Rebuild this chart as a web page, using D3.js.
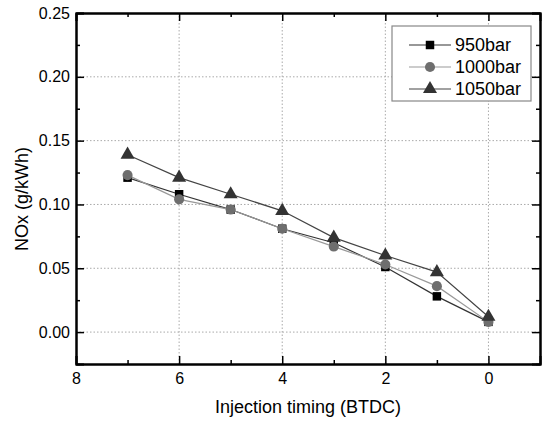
<!DOCTYPE html>
<html>
<head>
<meta charset="utf-8">
<script src="https://cdn.jsdelivr.net/npm/d3@7"></script>
<style>
  body { margin: 0; background: #fff; }
  svg { display: block; font-family: "Liberation Sans", Arial, sans-serif; }
</style>
</head>
<body>
<div id="chart"></div>
<script>
// injection timing (BTDC)
const timings = [7, 6, 5, 4, 3, 2, 1, 0]
const nox950  = [0.121, 0.108, 0.096, 0.081, 0.070, 0.051, 0.028, 0.008]
const nox1000 = [0.123, 0.104, 0.096, 0.081, 0.067, 0.053, 0.036, 0.008]
const nox1050 = [0.139, 0.121, 0.108, 0.095, 0.074, 0.060, 0.047, 0.012]
const seriesNames = ['950bar', '1000bar', '1050bar']
const xTicks = [8, 6, 4, 2, 0]
const xMinor = [7, 5, 3, 1]
const yTicks = [0, 0.05, 0.10, 0.15, 0.20, 0.25]
const yMinor = [-0.025, 0.025, 0.075, 0.125, 0.175, 0.225]

const width = 542,
      height = 422,
      margin = { top: 13, right: 2, bottom: 58, left: 76 }

const styles = [
  { symbol: d3.symbolSquare,   size: 72, fill: '#000', stroke: '#333' },
  { symbol: d3.symbolCircle,   size: 80, fill: '#6e6e6e', stroke: '#999' },
  { symbol: d3.symbolTriangle, size: 85, fill: '#333', stroke: '#444' }
]
const seriesData = [nox950, nox1000, nox1050]

const svg = d3.select('#chart')
  .append('svg')
  .attr('width', width)
  .attr('height', height)

const x = d3.scaleLinear()
  .domain([8, -1])
  .range([margin.left, width - margin.right])
const y = d3.scaleLinear()
  .domain([-0.025, 0.25])
  .range([height - margin.bottom, margin.top])

const x0 = x.range()[0], x1 = x.range()[1]
const y0 = y.range()[0], y1 = y.range()[1]

// dotted grid
svg.append('g')
  .selectAll('line')
  .data(xTicks.filter(d => d !== 8))
  .enter()
  .append('line')
    .attr('x1', d => x(d)).attr('x2', d => x(d))
    .attr('y1', y0).attr('y2', y1)
    .attr('stroke', '#aaa')
    .attr('stroke-dasharray', '1.5,2')
svg.append('g')
  .selectAll('line')
  .data(yTicks.filter(d => d !== 0.25))
  .enter()
  .append('line')
    .attr('x1', x0).attr('x2', x1)
    .attr('y1', d => y(d)).attr('y2', d => y(d))
    .attr('stroke', '#aaa')
    .attr('stroke-dasharray', '1.5,2')

// axes, ticks pointing inward
const major = 8, minor = 4
const addAxis = (axis, tx, ty, labels) => {
  const g = svg.append('g')
    .attr('transform', `translate(${tx},${ty})`)
    .call(axis)
  g.select('.domain').attr('stroke', '#000').attr('stroke-width', 2)
  g.selectAll('.tick line').attr('stroke', '#000').attr('stroke-width', 1.5)
  g.selectAll('text')
    .attr('font-size', 16)
    .attr('font-family', '"Liberation Sans", Arial, sans-serif')
    .attr('fill', '#000')
  if (!labels) g.selectAll('text').remove()
  return g
}

addAxis(d3.axisBottom(x).tickValues(xTicks).tickSize(-major).tickPadding(9).tickFormat(d3.format('d')), 0, y0, true)
addAxis(d3.axisBottom(x).tickValues(xMinor).tickSize(-minor).tickSizeOuter(0), 0, y0, false)
addAxis(d3.axisTop(x).tickValues(xTicks).tickSize(-major), 0, y1, false)
addAxis(d3.axisTop(x).tickValues(xMinor).tickSize(-minor).tickSizeOuter(0), 0, y1, false)
addAxis(d3.axisLeft(y).tickValues(yTicks).tickSize(-major).tickPadding(6).tickFormat(d3.format('.2f')), x0, 0, true)
addAxis(d3.axisLeft(y).tickValues(yMinor).tickSize(-minor).tickSizeOuter(0), x0, 0, false)
addAxis(d3.axisRight(y).tickValues(yTicks).tickSize(-major), x1, 0, false)
addAxis(d3.axisRight(y).tickValues(yMinor).tickSize(-minor).tickSizeOuter(0), x1, 0, false)

// series lines and markers
const line = d3.line()
  .x((d, i) => x(timings[i]))
  .y(d => y(d))

seriesData.forEach((values, s) => {
  const st = styles[s]
  svg.append('path')
    .datum(values)
    .attr('d', line)
    .attr('fill', 'none')
    .attr('stroke', st.stroke)
    .attr('stroke-width', 1.2)
})
seriesData.forEach((values, s) => {
  const st = styles[s]
  svg.append('g')
    .selectAll('path')
    .data(values)
    .enter()
    .append('path')
      .attr('transform', (d, i) => `translate(${x(timings[i])},${y(d)})`)
      .attr('d', d3.symbol().type(st.symbol).size(st.size))
      .attr('fill', st.fill)
})

// legend
const legend = svg.append('g').attr('transform', 'translate(392,26)')
legend.append('rect')
  .attr('width', 139)
  .attr('height', 75)
  .attr('fill', '#fff')
  .attr('stroke', '#888')
  .attr('stroke-width', 1.2)
const rows = legend.selectAll('g.row')
  .data(seriesNames)
  .enter()
  .append('g')
    .attr('class', 'row')
    .attr('transform', (d, i) => `translate(0,${19 + i * 22})`)
rows.append('line')
  .attr('x1', 17).attr('x2', 59)
  .attr('stroke', (d, i) => styles[i].stroke)
  .attr('stroke-width', 1.2)
rows.append('path')
  .attr('transform', 'translate(38,0)')
  .attr('d', (d, i) => d3.symbol().type(styles[i].symbol).size(styles[i].size)())
  .attr('fill', (d, i) => styles[i].fill)
rows.append('text')
  .attr('x', 63)
  .attr('dy', '0.36em')
  .attr('font-size', 18)
  .attr('fill', '#000')
  .text(d => d)

// axis titles
svg.append('text')
  .attr('x', (x0 + x1) / 2)
  .attr('y', 413)
  .attr('text-anchor', 'middle')
  .attr('font-size', 18)
  .text('Injection timing (BTDC)')
svg.append('text')
  .attr('transform', 'translate(28,199) rotate(-90)')
  .attr('text-anchor', 'middle')
  .attr('font-size', 18)
  .text('NOx (g/kWh)')
</script>
</body>
</html>
